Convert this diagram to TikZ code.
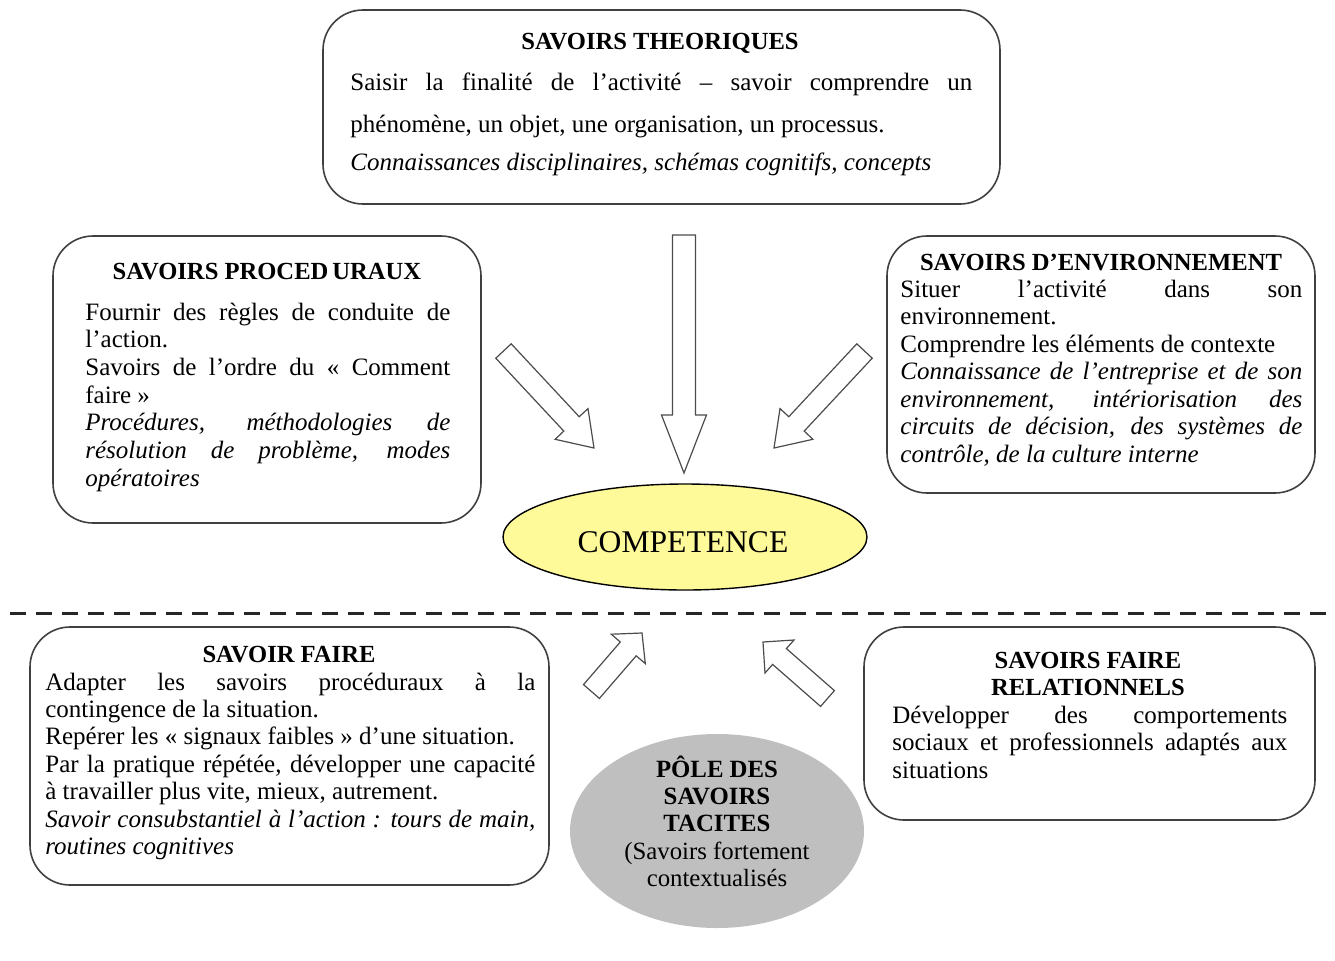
\documentclass[tikz,border=0pt]{standalone}
\usepackage{fontspec}
\setmainfont{Liberation Serif}
\usetikzlibrary{shapes.geometric}
\tikzset{
  box/.style={draw=black!75, line width=0.8pt, rounded corners=20pt, fill=white, inner sep=0pt},
  ttl/.style={anchor=base, inner sep=0pt, font=\fontsize{12.3}{13.8}\selectfont\bfseries},
  body/.style={anchor=base west, inner sep=0pt},
  blockarrow/.style={draw=black!70, fill=white, line width=0.6pt, line join=miter},
  compell/.style={ellipse, draw=black, line width=0.7pt, fill=yellow!40, minimum width=182pt, minimum height=53pt, inner sep=0pt},
  poleell/.style={ellipse, fill=black!25, minimum width=147pt, minimum height=97pt, inner sep=0pt},
  divider/.style={line width=1.5pt, dash pattern=on 8pt off 5pt, draw=black!85},
}
\newcommand{\bodytext}[3]{\parbox[t]{#1}{\fontsize{12.5}{#2}\selectfont\tolerance=10000\hbadness=10000\hyphenpenalty=10000\exhyphenpenalty=10000 #3}}
\begin{document}
\begin{tikzpicture}[x=0.5pt,y=-0.5pt]
\useasboundingbox (0,0) rectangle (1335,960);
\fill[white] (0,0) rectangle (1335,960);

% ---- SAVOIRS THEORIQUES
\node[box, minimum width=338.5pt, minimum height=97pt] (theo) at (661.5,107) {};
\node[ttl] (theoT) at (660,49) {SAVOIRS THEORIQUES};
\node[body] (theoB) at (350,90) {\bodytext{311pt}{21pt}{Saisir la finalité de l’activité – savoir comprendre un\linebreak phénomène, un objet, une organisation, un processus.}};
\node[body] (theoI) at (350,170) {\bodytext{311pt}{21pt}{\textit{Connaissances disciplinaires, schémas cognitifs, concepts}}};

% ---- SAVOIRS PROCEDURAUX
\node[box, minimum width=214pt, minimum height=143.5pt] (proc) at (267,379.5) {};
\node[ttl] (procT) at (267,279) {SAVOIRS PROCED\kern2pt URAUX};
\node[body] (procB) at (85,320) {\bodytext{182.5pt}{13.85pt}{Fournir des règles de conduite de\linebreak l’action.\\Savoirs de l’ordre du «~Comment\linebreak faire~»\\\textit{Procédures, méthodologies de\linebreak résolution de problème, modes\linebreak opératoires}}};

% ---- SAVOIRS D'ENVIRONNEMENT
\node[box, minimum width=214pt, minimum height=128.5pt] (env) at (1101,364.5) {};
\node[ttl] (envT) at (1101,270) {SAVOIRS D’ENVIRONNEMENT};
\node[body] (envB) at (900,297) {\bodytext{201pt}{13.75pt}{Situer l’activité dans son\linebreak environnement.\\Comprendre les éléments de contexte\\\textit{Connaissance de l’entreprise et de son\linebreak environnement, intériorisation des\linebreak circuits de décision, des systèmes de\linebreak contrôle, de la culture interne}}};

% ---- COMPETENCE
\node[compell] (comp) at (685,537) {};
\node[inner sep=0pt, font=\fontsize{15.8}{18}\selectfont] (compT) at (683,542) {COMPETENCE};

% ---- block arrows towards competence
\draw[blockarrow] (672.5,235) -- (695.5,235) -- (695.5,415) -- (706.5,415) -- (684,473) -- (661.5,415) -- (672.5,415) -- cycle;
\draw[blockarrow] (511.2,343.8) -- (579.2,416.7) -- (588.0,408.6) -- (594,448) -- (555.1,439.3) -- (563.8,431.1) -- (495.8,358.2) -- cycle;
\draw[blockarrow] (856.8,343.8) -- (788.8,416.7) -- (780.0,408.6) -- (774,448) -- (812.9,439.3) -- (804.2,431.1) -- (872.2,358.2) -- cycle;

% ---- divider
\coordinate (dl) at (10,613);
\coordinate (dr) at (1335,613);
\draw[divider] (dl) -- (dr);

% ---- SAVOIR FAIRE
\node[box, minimum width=259.5pt, minimum height=129pt] (sf) at (289.5,756) {};
\node[ttl] (sfT) at (289,662) {SAVOIR FAIRE};
\node[body] (sfB) at (45,690) {\bodytext{245pt}{13.7pt}{Adapter les savoirs procéduraux à la\linebreak contingence de la situation.\\Repérer les «~signaux faibles~» d’une situation.\\Par la pratique répétée, développer une capacité\linebreak à travailler plus vite, mieux, autrement.\\\textit{Savoir consubstantiel à l’action : tours de main,\linebreak routines cognitives}}};

% ---- SAVOIRS FAIRE RELATIONNELS
\node[box, minimum width=225.5pt, minimum height=96.5pt] (rel) at (1089.5,723.5) {};
\node[ttl] (relT1) at (1088,668) {SAVOIRS FAIRE};
\node[ttl] (relT2) at (1088,695) {RELATIONNELS};
\node[body] (relB) at (892,723) {\bodytext{197.5pt}{13.8pt}{Développer des comportements\linebreak sociaux et professionnels adaptés aux\linebreak situations}};

% ---- POLE DES SAVOIRS TACITES
\node[poleell] (pole) at (717,831) {};
\node[inner sep=0pt, anchor=base] (poleT) at (717,777) {\parbox[t]{150pt}{\centering\fontsize{12.4}{13.7}\selectfont\textbf{PÔLE DES\\SAVOIRS\\TACITES}\\(Savoirs fortement\\contextualisés}};

% ---- block arrows from tacit pole
\draw[blockarrow] (583.5,684.6) -- (620.3,642.0) -- (611.3,634.2) -- (642,633) -- (645.3,663.6) -- (636.2,655.8) -- (599.4,698.4) -- cycle;
\draw[blockarrow] (834.4,690.6) -- (786.4,648.6) -- (794.0,640.0) -- (763,642) -- (765.0,673.0) -- (772.6,664.4) -- (820.6,706.4) -- cycle;
\end{tikzpicture}
\end{document}
